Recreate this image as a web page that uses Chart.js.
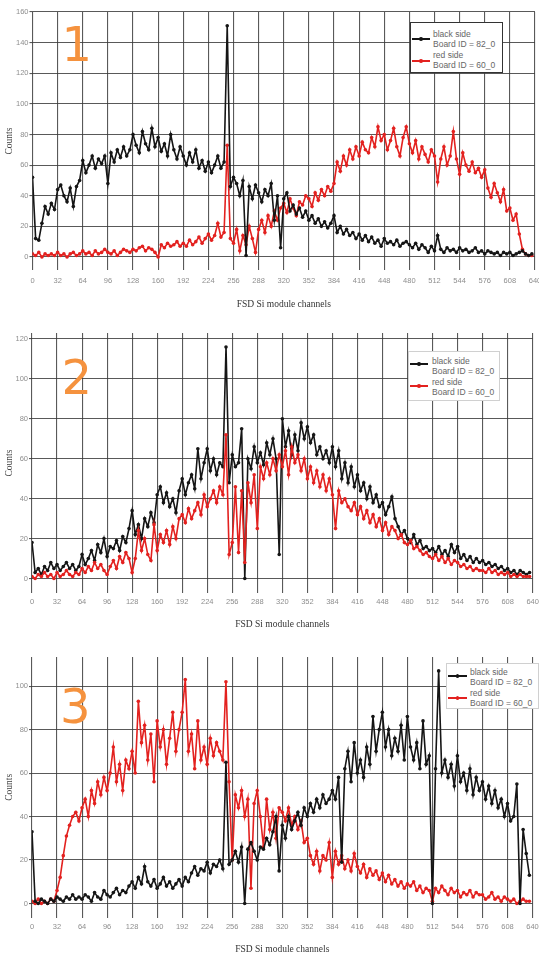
<!DOCTYPE html>
<html>
<head>
<meta charset="utf-8">
<script src="https://cdn.jsdelivr.net/npm/chart.js@4.4.0/dist/chart.umd.min.js"></script>
<style>
html, body { margin: 0; padding: 0; background: #fff; }
body { width: 539px; height: 954px; position: relative; overflow: hidden; }
canvas { position: absolute; left: 0; }
.num { position: absolute; font-family: 'DejaVu Sans', sans-serif; font-size: 48px; line-height: 48px; color: #f5923e; }
.legend { position: absolute; background: #fff; box-sizing: border-box; font-family: 'Liberation Sans', Arial, sans-serif; font-size: 8.5px; color: #666; }
.legend .txt { position: absolute; white-space: nowrap; line-height: 10px; }
.legend .mk { position: absolute; height: 1.5px; }
.legend .dot { position: absolute; width: 3.6px; height: 3.6px; border-radius: 50%; }
</style>
</head>
<body>
<script>
// channel bins (every 4th channel)
const channels = [
  0,4,8,12,16,20,24,28,32,36,40,44,48,52,56,60,
  64,68,72,76,80,84,88,92,96,100,104,108,112,116,120,124,
  128,132,136,140,144,148,152,156,160,164,168,172,176,180,184,188,
  192,196,200,204,208,212,216,220,224,228,232,236,240,244,248,252,
  256,260,264,268,272,276,280,284,288,292,296,300,304,308,312,316,
  320,324,328,332,336,340,344,348,352,356,360,364,368,372,376,380,
  384,388,392,396,400,404,408,412,416,420,424,428,432,436,440,444,
  448,452,456,460,464,468,472,476,480,484,488,492,496,500,504,508,
  512,516,520,524,528,532,536,540,544,548,552,556,560,564,568,572,
  576,580,584,588,592,596,600,604,608,612,616,620,624,628,632,636
];
const xTicks = [0,32,64,96,128,160,192,224,256,288,320,352,384,416,448,480,512,544,576,608,640];
const p1Ticks = [0,20,40,60,80,100,120,140,160];
const p2Ticks = [0,20,40,60,80,100,120];
const p3Ticks = [0,20,40,60,80,100];

const seriesNames = ['black side', 'red side'];
const boardIds = ['Board ID = 82_0', 'Board ID = 60_0'];
const panelLabels = ['1', '2', '3'];
const xTitle = 'FSD Si module channels';
const yTitle = 'Counts';

// panel 1
const p1Black = [
  52,12,11,22,33,28,35,31,44,47,40,36,45,33,46,50,
  63,55,60,66,58,64,61,66,48,68,62,70,65,72,66,70,
  80,73,68,82,74,70,84,72,78,69,74,66,80,70,64,72,
  66,60,68,62,70,58,63,56,62,55,60,66,58,62,151,46,
  52,48,40,50,1,46,38,47,42,36,44,40,48,24,40,6,
  38,42,30,34,28,32,26,30,24,27,22,25,20,23,19,22,
  27,16,20,15,18,14,16,12,15,11,14,10,13,9,11,7,
  12,9,10,8,11,7,9,10,8,6,9,5,8,6,3,7,
  4,14,5,3,6,4,5,3,6,4,5,3,4,6,3,4,
  2,4,3,2,3,1,3,2,3,1,2,3,4,2,1,2
];
const p1Red = [
  2,1,3,0,2,1,2,1,3,1,2,0,2,3,1,2,
  4,2,3,1,4,2,3,5,3,2,4,1,3,5,4,3,
  5,4,6,7,4,6,5,3,0,8,6,9,7,8,10,7,
  9,7,11,8,10,13,9,12,15,11,14,22,13,16,73,12,
  9,18,4,14,8,20,12,3,18,24,16,27,20,30,24,32,
  35,29,38,32,27,36,34,40,38,33,42,37,44,40,46,43,
  48,62,56,66,60,70,64,72,66,75,70,68,78,72,85,76,
  80,70,76,84,72,66,78,85,74,68,76,64,72,67,62,70,
  66,49,64,72,60,66,82,64,54,68,60,56,62,55,58,52,
  57,45,39,48,42,36,44,30,32,24,28,15,5,2,1,1
];

// panel 2
const p2Black = [
  18,3,5,2,6,4,8,5,7,4,6,8,5,7,4,6,
  12,7,10,14,9,17,13,20,11,16,15,19,14,21,18,25,
  34,22,27,20,30,26,33,28,42,46,38,43,36,40,33,44,
  50,42,48,52,45,65,50,58,65,54,60,52,58,56,116,48,
  62,56,58,75,0,60,55,66,58,63,57,68,62,70,60,12,
  80,66,74,62,72,64,78,70,76,68,72,62,66,60,64,58,
  66,56,64,50,58,48,56,46,52,44,48,40,46,38,42,36,
  38,32,36,41,30,26,22,24,20,18,22,17,19,15,16,14,
  15,13,16,12,14,11,17,13,16,10,12,9,11,8,10,8,
  9,7,8,6,7,5,6,4,5,3,4,2,4,3,2,3
];
const p2Red = [
  1,0,2,1,3,1,2,0,3,1,2,4,2,1,3,2,
  5,3,6,4,8,5,7,4,2,6,9,5,11,8,13,10,
  3,10,24,14,20,12,9,27,14,22,18,24,17,26,20,30,
  32,28,35,30,34,38,32,42,36,40,44,38,46,42,72,12,
  18,46,13,44,8,48,38,52,25,56,50,58,52,60,54,62,
  56,64,52,66,58,62,54,60,50,56,48,54,46,52,44,50,
  42,25,44,38,40,36,34,38,32,36,30,34,28,32,26,30,
  24,28,22,26,24,20,22,18,17,19,15,16,14,12,13,11,
  10,12,9,11,8,10,7,9,8,6,7,5,6,4,5,4,
  4,3,5,3,4,2,3,2,3,1,2,1,2,1,1,1
];

// panel 3
const p3Black = [
  33,1,0,2,1,0,2,1,3,2,1,3,2,4,2,3,
  2,4,3,1,5,3,2,6,4,3,5,7,4,6,5,8,
  10,7,12,9,17,10,8,11,7,9,12,8,10,7,9,11,
  8,12,10,14,17,13,16,15,19,14,18,17,20,16,65,18,
  20,24,19,26,0,25,28,24,20,26,25,30,27,33,40,15,
  36,30,40,34,38,42,36,44,40,46,42,48,44,50,46,48,
  52,48,58,19,62,70,56,74,60,66,58,72,64,86,70,80,
  88,72,80,68,76,70,82,66,86,72,66,74,62,84,64,68,
  0,62,107,60,66,58,64,54,68,56,60,52,62,50,58,52,
  56,48,54,46,52,44,48,40,46,38,40,55,0,34,23,13
];
const p3Red = [
  1,0,2,0,1,0,2,1,6,12,22,31,36,40,42,38,
  44,48,40,52,46,56,50,58,52,60,72,56,64,52,66,62,
  70,60,93,74,82,66,78,56,84,72,80,64,76,88,70,80,
  88,103,70,78,62,84,66,72,64,76,68,74,70,66,102,56,
  20,50,44,52,40,48,7,46,52,40,26,48,34,42,30,44,
  42,38,44,36,40,34,38,28,30,22,18,24,15,22,20,28,
  12,24,18,22,16,20,15,23,17,14,18,12,16,13,15,11,
  14,10,13,9,11,8,10,7,9,8,10,6,8,5,7,6,
  1,7,5,8,6,4,7,5,6,3,5,4,6,3,5,4,
  4,2,3,5,2,3,1,3,2,1,2,0,1,2,1,1
];

const BLACK = '#151515';
const RED = '#e3211f';
const GRID = 'rgba(60,60,60,0.85)';
const TICK_COLOR = '#8e8e8e';

function toPoints(vals) {
  return vals.map((v, i) => ({ x: channels[i], y: v }));
}

function lineSet(label, vals, color) {
  return {
    label: label,
    data: toPoints(vals),
    borderColor: color,
    backgroundColor: color,
    borderWidth: 1.6,
    pointRadius: 1.8,
    pointBorderWidth: 0,
    pointBackgroundColor: color,
    tension: 0
  };
}

function makePanel(o) {
  const cv = document.createElement('canvas');
  cv.width = 539;
  cv.height = o.height;
  cv.style.top = o.top + 'px';
  cv.style.width = '539px';
  cv.style.height = o.height + 'px';
  document.body.appendChild(cv);

  const b = lineSet(seriesNames[0], o.black, BLACK);
  const r = lineSet(seriesNames[1], o.red, RED);

  new Chart(cv, {
    type: 'line',
    data: { datasets: o.redOnTop ? [r, b] : [b, r] },
    options: {
      responsive: false,
      animation: false,
      layout: { padding: { top: o.padTop, right: o.padRight, left: 0, bottom: 0 } },
      plugins: { legend: { display: false }, tooltip: { enabled: false } },
      scales: {
        x: {
          type: 'linear',
          min: 0,
          max: 640,
          afterBuildTicks: s => { s.ticks = xTicks.map(v => ({ value: v })); },
          afterFit: s => { s.height = o.xHeight; s.paddingLeft = 0; s.paddingRight = 0; },
          border: { display: false },
          grid: { color: GRID, lineWidth: 1.1, drawTicks: false },
          ticks: { color: TICK_COLOR, padding: o.tickPad, maxRotation: 0, autoSkip: false,
                   font: { family: 'Liberation Sans', size: 7.5 } },
          title: { display: true, text: xTitle, color: '#333',
                   font: { family: 'Liberation Serif', size: 9.5, lineHeight: 1 },
                   padding: { top: 0, bottom: o.titlePad } }
        },
        y: {
          min: o.yMin,
          max: o.yMax,
          afterBuildTicks: s => { s.ticks = o.yTicks.map(v => ({ value: v })); },
          afterFit: s => { s.width = o.yWidth; s.paddingTop = 0; s.paddingBottom = 0; },
          border: { display: false },
          grid: { color: GRID, lineWidth: 1.1, tickLength: 3 },
          ticks: { color: TICK_COLOR, padding: 1, font: { family: 'Liberation Sans', size: 7.5 } },
          title: { display: true, text: yTitle, color: '#444',
                   font: { family: 'Liberation Serif', size: 9.5, lineHeight: 1 },
                   padding: { top: 5.2, bottom: 0 } }
        }
      }
    }
  });

  // legend box
  const lg = document.createElement('div');
  lg.className = 'legend';
  lg.style.left = o.lg.left + 'px';
  lg.style.top = o.lg.top + 'px';
  lg.style.width = o.lg.w + 'px';
  lg.style.height = o.lg.h + 'px';
  lg.style.border = '1px solid ' + o.lg.border;
  const colors = [BLACK, RED];
  for (let k = 0; k < 2; k++) {
    const t1 = document.createElement('div');
    t1.className = 'txt';
    t1.style.left = o.lg.textX + 'px';
    t1.style.top = (o.lg.rows[k * 2] - 5) + 'px';
    t1.textContent = seriesNames[k];
    const t2 = document.createElement('div');
    t2.className = 'txt';
    t2.style.left = o.lg.textX + 'px';
    t2.style.top = (o.lg.rows[k * 2 + 1] - 5) + 'px';
    t2.textContent = boardIds[k];
    const mk = document.createElement('div');
    mk.className = 'mk';
    mk.style.background = colors[k];
    mk.style.left = o.lg.mkX + 'px';
    mk.style.width = o.lg.mkW + 'px';
    mk.style.top = (o.lg.mkY[k] - 0.75) + 'px';
    const dot = document.createElement('div');
    dot.className = 'dot';
    dot.style.background = colors[k];
    dot.style.left = (o.lg.mkX + o.lg.mkW / 2 - 1.8) + 'px';
    dot.style.top = (o.lg.mkY[k] - 1.8) + 'px';
    lg.appendChild(mk); lg.appendChild(dot); lg.appendChild(t1); lg.appendChild(t2);
  }
  document.body.appendChild(lg);

  const num = document.createElement('div');
  num.className = 'num';
  num.style.left = o.numX + 'px';
  num.style.top = o.numY + 'px';
  num.textContent = o.label;
  document.body.appendChild(num);
}

makePanel({
  top: 0, height: 315, padTop: 12, padRight: 3.5, xHeight: 45, yWidth: 32.5,
  yMin: -8.5, yMax: 160, yTicks: p1Ticks, titlePad: 6.25, tickPad: 6,
  black: p1Black, red: p1Red, redOnTop: false, label: panelLabels[0], numX: 61.5, numY: 19.5,
  lg: { left: 410, top: 22, w: 93, h: 51, border: '#333', textX: 22, mkX: 1, mkW: 18,
        rows: [11, 21, 32, 42], mkY: [16, 38] }
});
makePanel({
  top: 318, height: 318, padTop: 15, padRight: 6.3, xHeight: 43, yWidth: 32,
  yMin: -7.25, yMax: 123, yTicks: p2Ticks, titlePad: 7.25, tickPad: 4,
  black: p2Black, red: p2Red, redOnTop: true, label: panelLabels[1], numX: 61.5, numY: 352.5,
  lg: { left: 408, top: 351, w: 92, h: 50, border: '#d0d0d0', textX: 23, mkX: 1, mkW: 18,
        rows: [9, 19, 30, 40], mkY: [12, 34] }
});
makePanel({
  top: 636, height: 318, padTop: 21, padRight: 6.5, xHeight: 36.5, yWidth: 32,
  yMin: -6.45, yMax: 113.4, yTicks: p3Ticks, titlePad: 0.25, tickPad: 5,
  black: p3Black, red: p3Red, redOnTop: false, label: panelLabels[2], numX: 60, numY: 681.5,
  lg: { left: 446, top: 663, w: 93, h: 46, border: '#d0d0d0', textX: 23, mkX: 1, mkW: 19,
        rows: [8, 18, 29, 39], mkY: [12, 34] }
});
</script>
</body>
</html>
